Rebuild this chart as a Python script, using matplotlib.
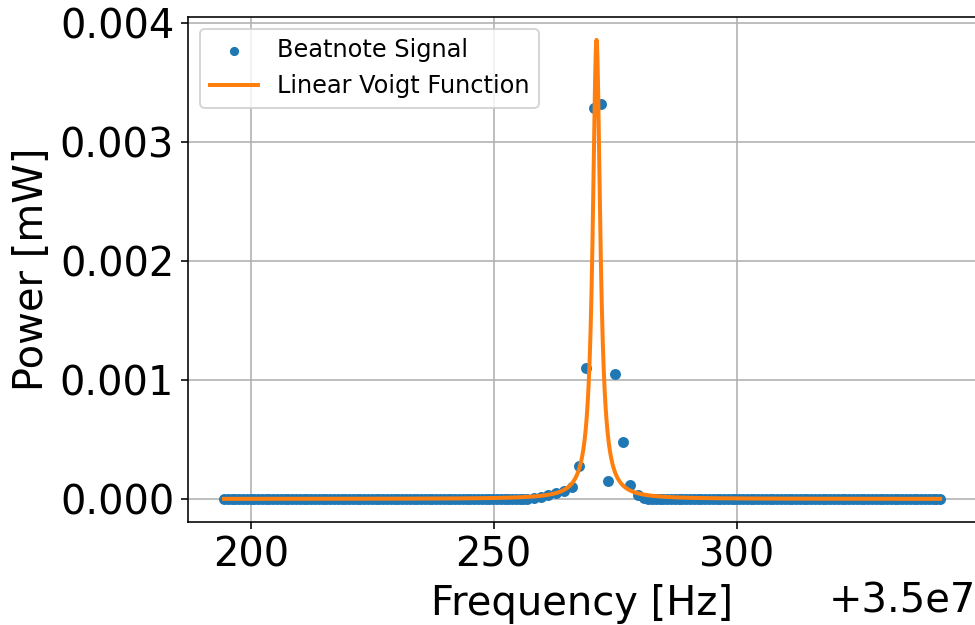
#!/usr/bin/env python3
# -*- coding: utf-8 -*-
"""Beatnote spectrum with a linear Voigt fit."""
import numpy as np
import matplotlib
matplotlib.use('Agg')
import matplotlib.pyplot as plt

OFFSET = 3.5e7  # Hz, shown as axis offset

# flat background either side of the peak (power ~ 0 mW)
base_left_freq = OFFSET + np.arange(194.5, 257.5, 0.78)
base_left_power = np.zeros(len(base_left_freq))
base_right_freq = OFFSET + np.arange(281.8, 342.2, 0.78)
base_right_power = np.zeros(len(base_right_freq))

# points around the beatnote peak
peak_freq = OFFSET + np.array([258.2, 259.7, 261.2, 262.8, 264.4, 266.2, 267.5, 268.9,
                               270.6, 272.0, 273.5, 274.9, 276.5, 278.0, 279.6, 281.0])
peak_power = np.array([0.00001, 0.00002, 0.00003, 0.00005, 0.00007, 0.00010, 0.00028, 0.00110,
                       0.00329, 0.00332, 0.00015, 0.00105, 0.00048, 0.00012, 0.00003, 0.00001])

# fitted voigt parameters (pseudo-voigt form)
fit_center = OFFSET + 271.15
fit_height = 0.00386
fit_gamma = 1.0     # Lorentz HWHM [Hz]
fit_sigma = 0.5     # Gauss sigma [Hz]
fit_eta = 0.9


def voigt(f):
    d = f - fit_center
    lor = 1.0 / (1.0 + (d / fit_gamma) ** 2)
    gau = np.exp(-0.5 * (d / fit_sigma) ** 2)
    return fit_height * (fit_eta * lor + (1 - fit_eta) * gau)


def main():
    freq = np.concatenate([base_left_freq, peak_freq, base_right_freq])
    power = np.concatenate([base_left_power, peak_power, base_right_power])
    f_fit = np.linspace(freq.min(), freq.max(), 3000)

    fig = plt.figure(figsize=(975 / 144, 625 / 144), dpi=144)
    ax = fig.add_axes([0.193, 0.165, 0.808, 0.808])
    ax.scatter(freq, power, s=20, color='C0', label='Beatnote Signal', zorder=2)
    ax.plot(f_fit, voigt(f_fit), color='C1', lw=2, label='Linear Voigt Function', zorder=3)

    ax.set_xlabel('Frequency [Hz]', fontsize=20)
    ax.set_ylabel('Power [mW]', fontsize=20)
    ax.tick_params(labelsize=20)
    ax.xaxis.get_offset_text().set_fontsize(20)
    ax.set_yticks([0, 0.001, 0.002, 0.003, 0.004])
    ax.grid(True)
    ax.legend(loc='upper left', fontsize=12, markerscale=0.8)
    fig.savefig('out.png', dpi=144)
    plt.close(fig)


if __name__ == '__main__':
    main()
